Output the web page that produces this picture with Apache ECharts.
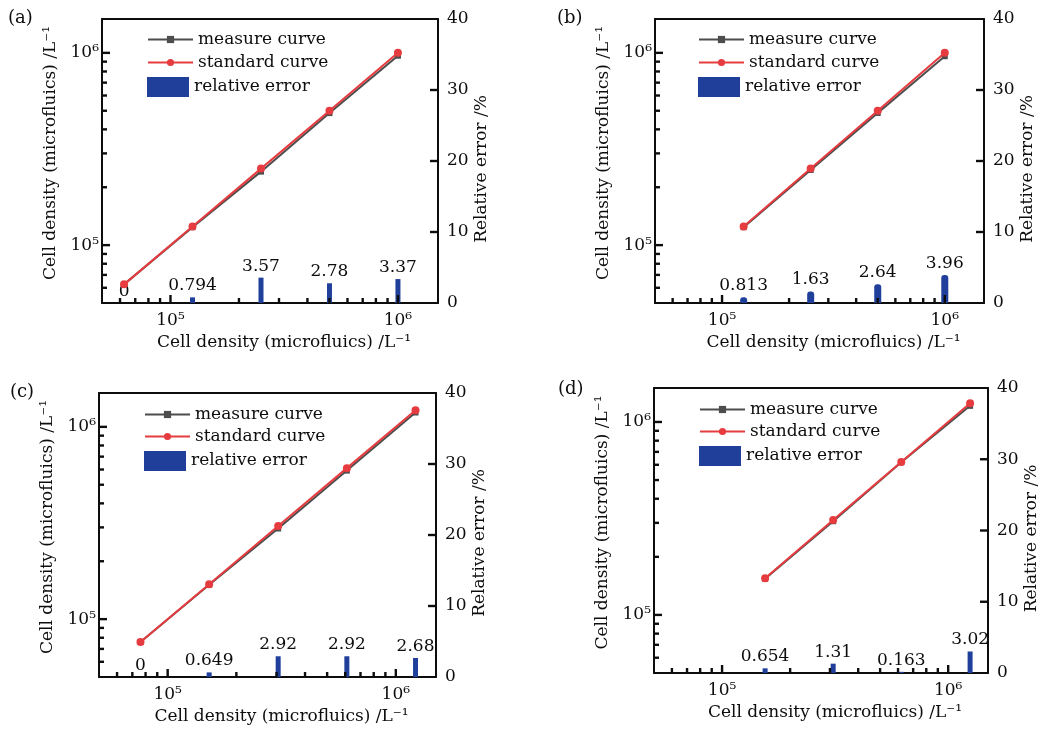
<!DOCTYPE html>
<html>
<head>
<meta charset="utf-8">
<script src="https://cdn.jsdelivr.net/npm/echarts@6/dist/echarts.min.js"></script>
<style>
  html, body { margin: 0; padding: 0; background: #fff; }
  #chart { width: 1047px; height: 733px; }
</style>
</head>
<body>
<div id="chart"></div>
<script>
// Cell density calibration: measured vs. standard density and relative error, samples (a)-(d)
const panelLabels = ['(a)', '(b)', '(c)', '(d)'];

const standardA = [62500, 125000, 250000, 500000, 1000000];
const measuredA = [62500, 124000, 241100, 486100, 966300];
const errorA = [0, 0.794, 3.57, 2.78, 3.37];

const standardB = [125000, 250000, 500000, 1000000];
const measuredB = [124000, 245900, 486800, 960400];
const errorB = [0.813, 1.63, 2.64, 3.96];

const standardC = [76000, 152000, 305000, 610000, 1220000];
const measuredC = [76000, 151000, 296100, 592200, 1187300];
const errorC = [0, 0.649, 2.92, 2.92, 2.68];

const standardD = [155000, 310000, 620000, 1250000];
const measuredD = [154000, 305900, 619000, 1212300];
const errorD = [0.654, 1.31, 0.163, 3.02];

// Axis ticks
const majorTicks = [1e5, 1e6];
const majorTickLabels = ['10\u2075', '10\u2076'];
const minorTicks = [6e4, 7e4, 8e4, 9e4, 2e5, 3e5, 4e5, 5e5, 6e5, 7e5, 8e5, 9e5];
const errorTicks = [10, 20, 30];

const seriesNames = ['measure curve', 'standard curve', 'relative error'];
const densityTitle = 'Cell density (microfluics) /L\u207B\u00B9';
const errorTitle = 'Relative error /%';

const panelData = [
  { standard: standardA, measured: measuredA, error: errorA },
  { standard: standardB, measured: measuredB, error: errorB },
  { standard: standardC, measured: measuredC, error: errorC },
  { standard: standardD, measured: measuredD, error: errorD }
];

// Page layout of the four plots
const layouts = [
  { grid: { left: 102, top: 19, width: 336, height: 284 }, title: [8, 9],   legendLeft: 147, rows: [40, 63, 87],    barWidth: 5, barRadius: 0 },
  { grid: { left: 655, top: 19, width: 329, height: 284 }, title: [557, 9], legendLeft: 698, rows: [40, 63, 87],    barWidth: 7, barRadius: 3 },
  { grid: { left: 99, top: 393, width: 337, height: 284 }, title: [10, 383], legendLeft: 144, rows: [415, 437, 461], barWidth: 5, barRadius: 0 },
  { grid: { left: 654, top: 388, width: 334, height: 285 }, title: [558, 380], legendLeft: 699, rows: [410, 432, 456], barWidth: 5, barRadius: 0 }
];

const FONT = "'DejaVu Serif', serif";
const INK = '#0d0d0d';
const GRAY = '#4d4d4d';
const RED = '#e63c3f';
const BLUE = '#1f3f9b';
const FS = 17;
const MAJOR_LEN = 8, MINOR_LEN = 5, TICK_W = 2.4;

const DMIN = 5e4, DMAX = 1.5e6;

function powLabel(v) {
  const i = majorTicks.findIndex(t => Math.abs(t - v) / t < 1e-6);
  return i >= 0 ? majorTickLabels[i] : '';
}
function isMajor(v) {
  return majorTicks.some(t => Math.abs(t - v) / t < 1e-6);
}

const textBase = { fontFamily: FONT, fontSize: FS, color: INK };
const frameLine = { show: true, onZero: false, lineStyle: { color: INK, width: 2 } };

const option = {
  animation: false,
  backgroundColor: '#fff',
  title: [],
  legend: [],
  grid: [],
  xAxis: [],
  yAxis: [],
  series: []
};

const densitySeriesIndex = [];
const errorSeriesIndex = [];

layouts.forEach((L, i) => {
  const d = panelData[i];

  option.title.push({
    text: panelLabels[i], left: L.title[0], top: L.title[1], padding: 0,
    textStyle: { fontFamily: FONT, fontSize: 18, fontWeight: 'normal', color: INK }
  });

  option.grid.push(Object.assign({ show: false, containLabel: false }, L.grid));

  option.xAxis.push({
    gridIndex: i, type: 'log', logBase: 10, min: DMIN, max: DMAX, position: 'bottom',
    axisLine: frameLine, axisTick: { show: false },
    axisLabel: { customValues: majorTicks, formatter: powLabel, margin: 9, ...textBase },
    splitLine: { show: false }, minorTick: { show: false },
    name: densityTitle, nameLocation: 'middle', nameGap: 31,
    nameTextStyle: { ...textBase, padding: [0, 0, 0, 28] }
  });
  option.xAxis.push({
    gridIndex: i, type: 'log', logBase: 10, min: DMIN, max: DMAX, position: 'top',
    axisLine: frameLine, axisTick: { show: false },
    axisLabel: { show: false }, splitLine: { show: false }, minorTick: { show: false }
  });

  option.yAxis.push({
    gridIndex: i, type: 'log', logBase: 10, min: DMIN, max: DMAX, position: 'left',
    axisLine: frameLine, axisTick: { show: false },
    axisLabel: { customValues: majorTicks, formatter: powLabel, margin: 3, ...textBase },
    splitLine: { show: false }, minorTick: { show: false },
    name: densityTitle, nameLocation: 'middle', nameGap: 43, nameRotate: 90,
    nameTextStyle: { ...textBase, padding: [0, 0, 0, 16] }
  });
  option.yAxis.push({
    gridIndex: i, type: 'value', min: 0, max: 40, interval: 10, position: 'right',
    axisLine: frameLine, axisTick: { show: false },
    axisLabel: { margin: 9, ...textBase },
    splitLine: { show: false },
    name: errorTitle, nameLocation: 'middle', nameGap: 35, nameRotate: 90,
    nameTextStyle: { ...textBase, padding: [0, 16, 0, 0] }
  });

  const xi = i * 2, yi = i * 2;

  option.series.push({
    name: seriesNames[0], type: 'line', xAxisIndex: xi, yAxisIndex: yi,
    data: d.standard.map((x, k) => [x, d.measured[k]]),
    symbol: 'rect', symbolSize: 6, color: GRAY,
    lineStyle: { color: GRAY, width: 2 }, itemStyle: { color: GRAY }, z: 3
  });
  densitySeriesIndex.push(option.series.length);
  option.series.push({
    name: seriesNames[1], type: 'line', xAxisIndex: xi, yAxisIndex: yi,
    data: d.standard.map(x => [x, x]),
    symbol: 'circle', symbolSize: 8, color: RED,
    lineStyle: { color: RED, width: 2 }, itemStyle: { color: RED }, z: 4
  });
  errorSeriesIndex.push(option.series.length);
  option.series.push({
    name: seriesNames[2], type: 'bar', xAxisIndex: xi, yAxisIndex: yi + 1,
    data: d.standard.map((x, k) => [x, d.error[k]]),
    barWidth: L.barWidth, color: BLUE,
    itemStyle: { color: BLUE, borderRadius: [L.barRadius, L.barRadius, 0, 0] },
    label: { show: true, position: 'top', distance: 3, ...textBase, formatter: p => String(p.value[1]) },
    z: 2
  });

  option.legend.push({
    data: [seriesNames[0]], left: L.legendLeft, top: L.rows[0] - 9, padding: 0,
    itemWidth: 45, itemHeight: 9, selectedMode: false, textStyle: { ...textBase }
  });
  option.legend.push({
    data: [seriesNames[1]], left: L.legendLeft, top: L.rows[1] - 9, padding: 0,
    itemWidth: 45, itemHeight: 9, selectedMode: false, textStyle: { ...textBase }
  });
  option.legend.push({
    data: [{ name: seriesNames[2], icon: 'rect' }], left: L.legendLeft, top: L.rows[2] - 10, padding: 0,
    itemWidth: 42, itemHeight: 20, selectedMode: false, textStyle: { ...textBase }
  });
});

const chart = echarts.init(document.getElementById('chart'), null, { renderer: 'canvas' });
chart.setOption(option);

// Inward tick marks, placed through each panel's series coordinate system
const allTicks = majorTicks.concat(minorTicks);
const tickMarks = [];
function addTick(p, dx, dy) {
  if (!p || !isFinite(p[0]) || !isFinite(p[1])) return;
  tickMarks.push({
    type: 'rect', silent: true, z: 100,
    shape: {
      x: Math.min(p[0], p[0] + dx) - (dx === 0 ? TICK_W / 2 : 0),
      y: Math.min(p[1], p[1] + dy) - (dy === 0 ? TICK_W / 2 : 0),
      width: dx === 0 ? TICK_W : Math.abs(dx),
      height: dy === 0 ? TICK_W : Math.abs(dy)
    },
    style: { fill: INK }
  });
}
layouts.forEach((L, i) => {
  const dFinder = { seriesIndex: densitySeriesIndex[i] };
  const eFinder = { seriesIndex: errorSeriesIndex[i] };
  allTicks.forEach(v => {
    const len = isMajor(v) ? MAJOR_LEN : MINOR_LEN;
    addTick(chart.convertToPixel(dFinder, [v, DMIN]), 0, -len);
    addTick(chart.convertToPixel(dFinder, [DMIN, v]), len, 0);
  });
  errorTicks.forEach(v => {
    addTick(chart.convertToPixel(eFinder, [DMAX, v]), -MAJOR_LEN, 0);
  });
});
chart.setOption({ graphic: { elements: tickMarks } });
</script>
</body>
</html>
